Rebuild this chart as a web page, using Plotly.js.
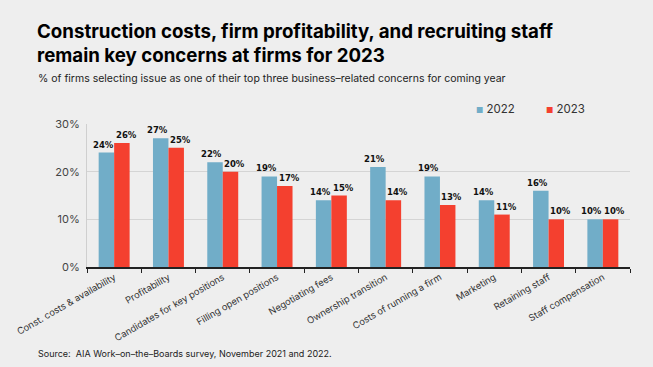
<!DOCTYPE html>
<html>
<head>
<meta charset="utf-8">
<script src="https://cdn.plot.ly/plotly-3.0.1.min.js"></script>
<style>html,body{margin:0;padding:0;background:#eeeeee;}#chart{width:653px;height:367px;}</style>
</head>
<body>
<div id="chart"></div>
<script>
const categories = ["Const. costs & availability","Profitability","Candidates for key positions","Filling open positions","Negotiating fees","Ownership transition","Costs of running a firm","Marketing","Retaining staff","Staff compensation"];
const seriesNames = ["2022","2023"];
const values2022 = [24,27,22,19,14,21,19,14,16,10];
const values2023 = [26,25,20,17,15,14,13,11,10,10];
const yTickVals = [0,10,20,30];
const yTickText = ["0%","10%","20%","30%"];

const blue = "#71adc8";
const red = "#f4402f";
const fontFam = "Inter, 'Liberation Sans', Arial, sans-serif";

const traces = [
  {type:"bar", name:seriesNames[0], x:categories, y:values2022, marker:{color:blue}, hoverinfo:"none", showlegend:false},
  {type:"bar", name:seriesNames[1], x:categories, y:values2023, marker:{color:red}, hoverinfo:"none", showlegend:false}
];

const px = v => (v-87)/543;
const py = v => (267-v)/143;

const annotations = [];
const lblFont = {family:"'DejaVu Sans', sans-serif", size:8.5, color:"#111", weight:700};
categories.forEach((c,i)=>{
  annotations.push({x:c, y:values2022[i], xref:"x", yref:"y", text:values2022[i]+"%", showarrow:false,
    xanchor:"center", yanchor:"bottom", xshift:-11, yshift:1, font:lblFont});
  annotations.push({x:c, y:values2023[i], xref:"x", yref:"y", text:values2023[i]+"%", showarrow:false,
    xanchor:"center", yanchor:"bottom", xshift:12, yshift:1, font:lblFont});
});
annotations.push({xref:"paper", yref:"paper", x:px(35), y:py(18), xanchor:"left", yanchor:"top", align:"left",
  text:"<b>Construction costs, firm profitability, and recruiting staff<br>remain key concerns at firms for 2023</b>", showarrow:false,
  font:{family:fontFam, size:18.7, color:"#000"}});
annotations.push({xref:"paper", yref:"paper", x:px(36), y:py(78), xanchor:"left", yanchor:"middle",
  text:"% of firms selecting issue as one of their top three business–related concerns for coming year", showarrow:false,
  font:{family:fontFam, size:10.5, color:"#222"}});
annotations.push({xref:"paper", yref:"paper", x:px(36), y:py(353), xanchor:"left", yanchor:"middle",
  text:"Source:  AIA Work–on–the–Boards survey, November 2021 and 2022.", showarrow:false,
  font:{family:fontFam, size:9, color:"#222"}});
// legend
[[seriesNames[0], blue, 474],[seriesNames[1], red, 544]].forEach(([n,col,x0])=>{
  annotations.push({xref:"paper", yref:"paper", x:px(x0), y:py(109), xanchor:"left", yanchor:"middle",
    text:"<span style='color:"+col+"; font-size:8px'>■</span> "+n, showarrow:false,
    font:{family:fontFam, size:11.5, color:"#333"}});
});

const layout = {
  width:653, height:367,
  paper_bgcolor:"#eeeeee", plot_bgcolor:"#eeeeee",
  margin:{l:87, r:23, t:124, b:100},
  barmode:"group", bargap:0.43, bargroupgap:0,
  font:{family:fontFam, color:"#333"},
  showlegend:false,
  xaxis:{type:"category", tickangle:-30, tickson:"boundaries", ticks:"outside", ticklen:4, tickcolor:"#222",
    showline:true, linecolor:"#222", linewidth:1.5, showgrid:false,
    tickfont:{family:fontFam, size:9.3, color:"#333"}, fixedrange:true},
  yaxis:{range:[0,30], tickvals:yTickVals, ticktext:yTickText, showgrid:true, gridcolor:"#d4d4d4", gridwidth:1,
    showline:true, linecolor:"#cfcfcf", zeroline:false, ticks:"", ticklabelstandoff:4,
    tickfont:{family:fontFam, size:11, color:"#444"}, fixedrange:true},
  annotations:annotations
};
Plotly.newPlot("chart", traces, layout, {displayModeBar:false, staticPlot:true});
</script>
</body>
</html>
